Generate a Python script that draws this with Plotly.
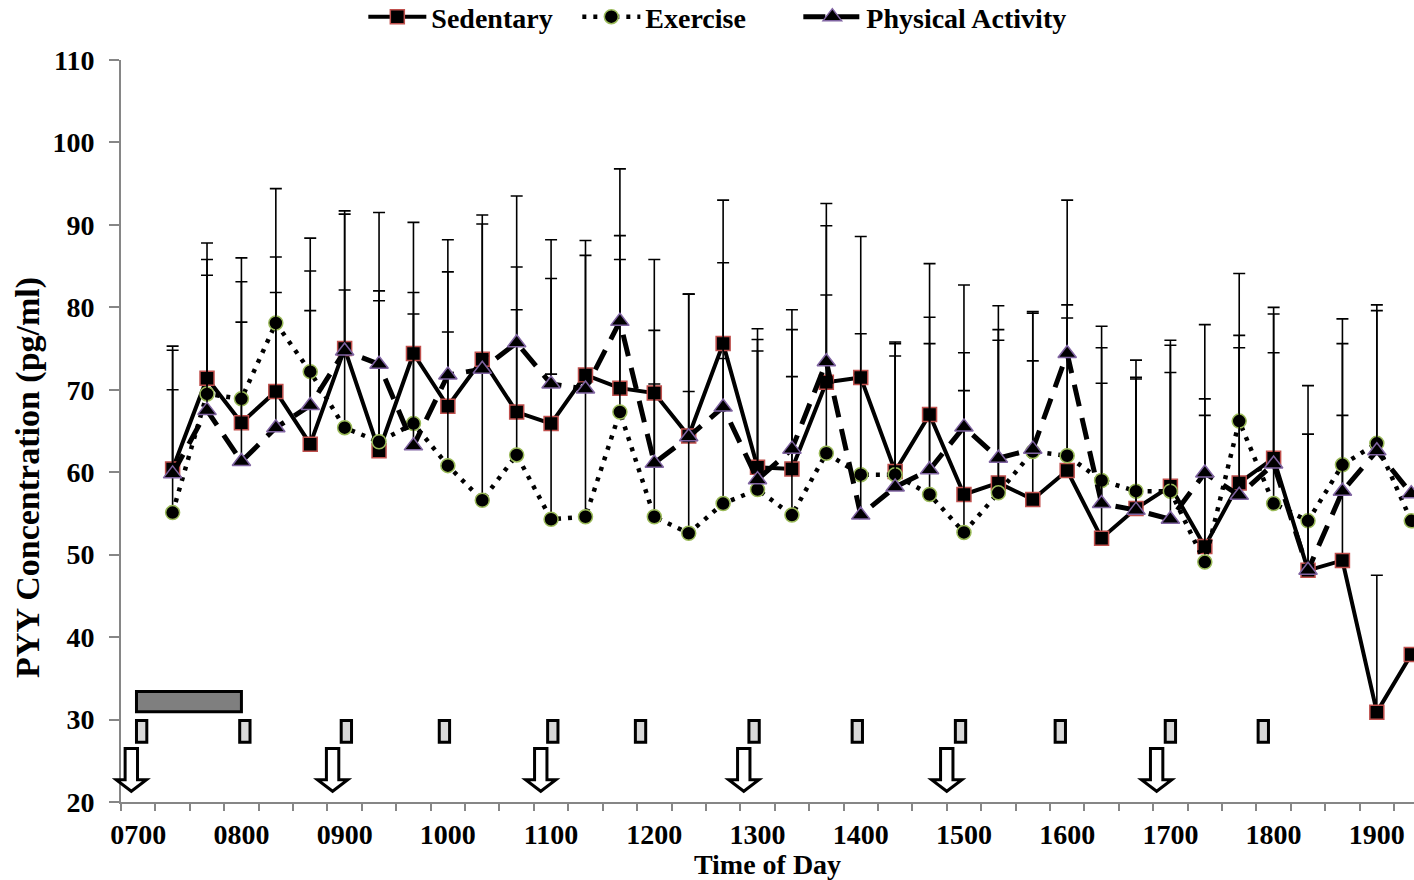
import plotly.graph_objects as go

# Sampling times (20-minute blood draws)
times = ["0720", "0740", "0800", "0820", "0840", "0900", "0920", "0940", "1000", "1020",
         "1040", "1100", "1120", "1140", "1200", "1220", "1240", "1300", "1320", "1340",
         "1400", "1420", "1440", "1500", "1520", "1540", "1600", "1620", "1640", "1700",
         "1720", "1740", "1800", "1820", "1840", "1900", "1920"]

# Mean PYY concentration (pg/ml)
sedentary = [60.4, 71.4, 66.0, 69.8, 63.4, 75.0, 62.6, 74.4, 68.0, 73.7,
             67.3, 65.9, 71.8, 70.2, 69.6, 64.4, 75.6, 60.6, 60.4, 70.9,
             71.5, 60.1, 67.0, 57.3, 58.7, 56.7, 60.2, 52.0, 55.6, 58.3,
             51.0, 58.7, 61.7, 48.1, 49.3, 30.9, 37.9]
exercise = [55.1, 69.5, 68.9, 78.1, 72.2, 65.4, 63.7, 65.9, 60.8, 56.6,
            62.1, 54.3, 54.6, 67.3, 54.6, 52.6, 56.2, 57.9, 54.8, 62.3,
            59.7, 59.7, 57.3, 52.7, 57.5, 62.5, 62.0, 59.0, 57.7, 57.7,
            49.1, 66.2, 56.2, 54.1, 60.9, 63.5, 54.1]
physical = [59.8, 67.5, 61.3, 65.4, 68.1, 74.7, 73.1, 63.2, 71.8, 72.5,
            75.7, 70.7, 70.1, 78.3, 61.1, 64.3, 67.9, 59.1, 62.8, 73.4,
            54.8, 58.2, 60.3, 65.5, 61.7, 62.8, 74.4, 56.2, 55.4, 54.3,
            59.9, 57.2, 61.0, 48.1, 57.7, 62.6, 57.4]

# Standard error (upper bars only)
sedentary_se = [14.9, 16.4, 17.1, 16.3, 16.2, 16.7, 18.2, 15.9, 16.3, 17.5,
                17.6, 17.6, 16.3, 18.5, 16.2, 17.2, 17.4, 16.8, 16.9, 19.0,
                17.1, 15.7, 18.3, 17.2, 18.6, 16.8, 18.5, 18.8, 15.9, 17.7,
                17.9, 17.9, 18.3, 16.5, 17.6, 16.6, None]
exercise_se = [14.9, 16.3, 17.1, 16.3, 16.2, 16.7, 18.3, 15.9, 16.2, 17.5,
               17.6, 17.6, 16.2, 18.5, 16.1, 17.2, 17.6, 16.8, 16.8, 19.2,
               17.1, 15.9, 18.3, 17.2, 18.5, 16.8, 18.3, 18.7, 15.9, 17.7,
               17.8, 17.9, 18.3, 16.4, 17.7, 16.8, None]
physical_se = [15.0, 16.4, 16.9, 16.4, 16.3, 16.6, 18.4, 16.0, 16.4, 17.6,
               17.8, 17.5, 16.2, 18.5, 16.1, 17.3, 17.5, 17.0, 16.9, 19.2,
               17.1, 15.9, 18.5, 17.2, 18.5, 16.7, 18.6, 18.9, 15.9, 17.8,
               18.0, 17.9, 18.2, 16.5, 17.9, 17.0, None]

# Axis labels
hour_labels = ["0700", "0800", "0900", "1000", "1100", "1200", "1300",
               "1400", "1500", "1600", "1700", "1800", "1900"]

# Protocol markers along the bottom of the chart (clock times)
meal_times = ["0656", "0853", "1054", "1252", "1450", "1652"]          # arrows
activity_times = ["0702", "0802", "0901", "0958", "1101", "1152",
                  "1258", "1358", "1458", "1556", "1700", "1754"]       # small boxes
session_start, session_end = "0659", "0800"                            # long bar


def minutes(t):
    return int(t[:2]) * 60 + int(t[2:])


x = [minutes(t) for t in times]
hour_vals = [minutes(t) for t in hour_labels]

X_MIN, X_MAX = 410, 1161.6
Y_MIN, Y_MAX = 20, 110


def px(m):
    return (m - X_MIN) / (X_MAX - X_MIN)


def py(v):
    return (v - Y_MIN) / (Y_MAX - Y_MIN)


FONT = "Liberation Serif, Times New Roman, serif"
err_style = dict(type="data", symmetric=False, thickness=1.6, width=6, color="black")

fig = go.Figure()
fig.add_trace(go.Scatter(
    x=x, y=sedentary, name="Sedentary", mode="lines+markers", legendwidth=141,
    line=dict(color="black", width=4),
    marker=dict(symbol="square", size=14, color="black", line=dict(color="#c0504d", width=1.5)),
    error_y=dict(array=sedentary_se, **err_style)))
fig.add_trace(go.Scatter(
    x=x, y=exercise, name="Exercise", mode="lines+markers", legendwidth=148,
    line=dict(color="black", width=4.5, dash="4px,7px"),
    marker=dict(symbol="circle", size=14, color="black", line=dict(color="#9bbb59", width=1.5)),
    error_y=dict(array=exercise_se, **err_style)))
fig.add_trace(go.Scatter(
    x=x, y=physical, name="Physical Activity", mode="lines+markers", legendwidth=215,
    line=dict(color="black", width=5, dash="22px,12px"),
    marker=dict(symbol="triangle-up", size=16, color="black", line=dict(color="#8064a2", width=1.5)),
    error_y=dict(array=physical_se, **err_style)))

shapes = []
# long session bar
shapes.append(dict(type="rect", xref="paper", yref="paper",
                   x0=px(minutes(session_start)), x1=px(minutes(session_end)),
                   y0=py(30.95), y1=py(33.4),
                   fillcolor="#7f7f7f", line=dict(color="black", width=3)))
# activity boxes
for t in activity_times:
    m = minutes(t)
    shapes.append(dict(type="rect", xref="paper", yref="paper",
                       x0=px(m - 3.0), x1=px(m + 3.0), y0=py(27.25), y1=py(29.9),
                       fillcolor="#d9d9d9", line=dict(color="black", width=3)))
# block arrows
for t in meal_times:
    m = minutes(t)
    sw, hw = 3.6, 8.8
    top, base, tip = 26.5, 22.7, 21.3
    pts = [(m - sw, top), (m + sw, top), (m + sw, base), (m + hw, base),
           (m, tip), (m - hw, base), (m - sw, base)]
    path = "M" + " L".join(f"{px(a):.5f},{py(b):.5f}" for a, b in pts) + " Z"
    shapes.append(dict(type="path", xref="paper", yref="paper", path=path,
                       fillcolor="white", line=dict(color="black", width=3)))

axis_gray = "#868686"
fig.update_layout(
    width=1414, height=880,
    margin=dict(l=121, r=0, t=60, b=78, autoexpand=False),
    paper_bgcolor="white", plot_bgcolor="white",
    font=dict(family=FONT, size=28, color="black", weight="bold"),
    shapes=shapes,
    showlegend=True,
    legend=dict(orientation="h", x=0.467, xanchor="center", y=1.058, yanchor="middle",
                font=dict(family=FONT, size=28, color="black", weight="bold"),
                itemwidth=58, tracegroupgap=0, bgcolor="rgba(0,0,0,0)"),
    xaxis=dict(range=[X_MIN, X_MAX], tickmode="array", tickvals=hour_vals, ticktext=hour_labels,
               ticks="", showline=True, linecolor=axis_gray, linewidth=2, showgrid=False,
               zeroline=False, ticklabelstandoff=6,
               minor=dict(tickmode="array", tickvals=[410 + 20 * k for k in range(38)],
                          ticks="outside", ticklen=7, tickwidth=1.5, tickcolor=axis_gray,
                          showgrid=False),
               title=dict(text="Time of Day", font=dict(size=28), standoff=6)),
    yaxis=dict(range=[Y_MIN, Y_MAX], dtick=10, tick0=20, ticks="outside", ticklen=10,
               tickwidth=1.5, tickcolor=axis_gray, showline=True, linecolor=axis_gray,
               linewidth=2, showgrid=False, zeroline=False, ticklabelstandoff=9),
    annotations=[dict(text="PYY Concentration (pg/ml)", textangle=-90, showarrow=False,
                      xref="paper", yref="paper", x=-0.072, y=0.438,
                      xanchor="center", yanchor="middle",
                      font=dict(family=FONT, size=34, color="black", weight="bold"))],
)

fig.write_html("out.html")
